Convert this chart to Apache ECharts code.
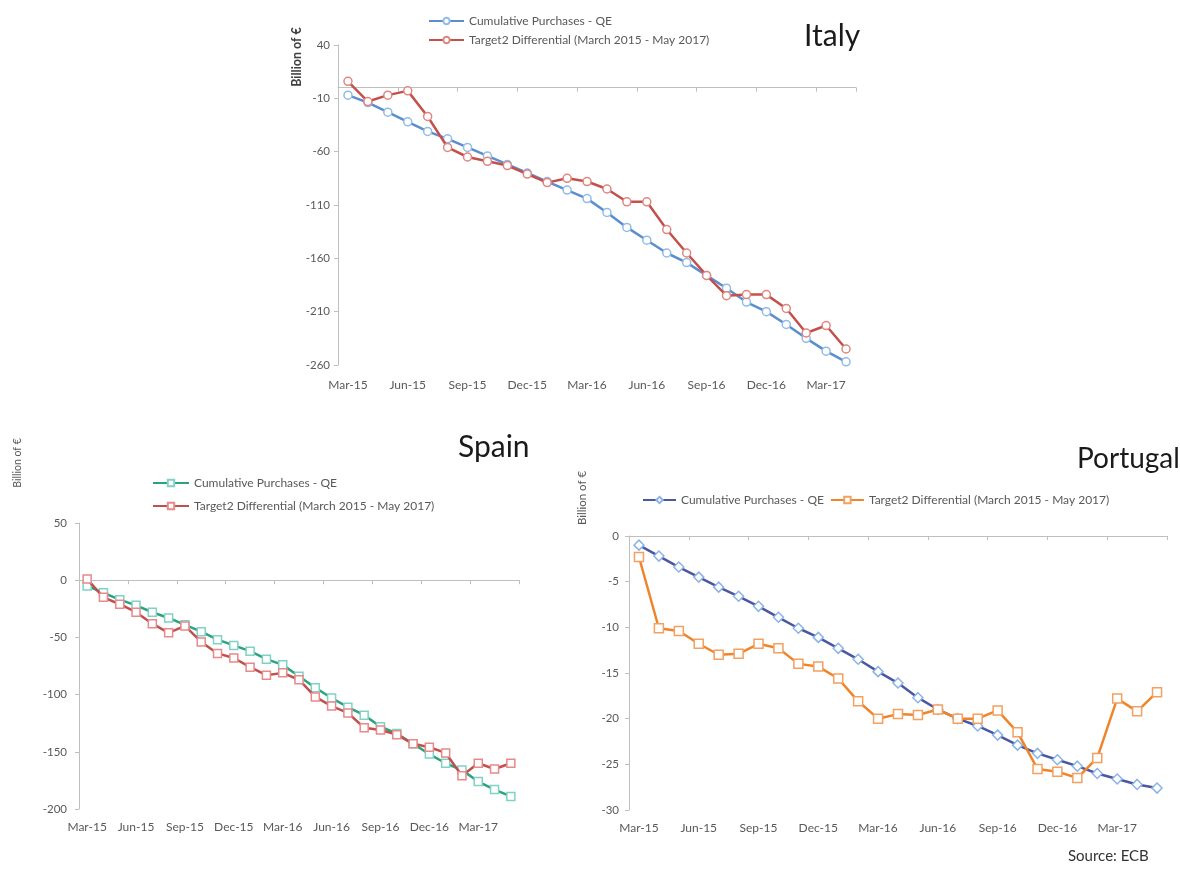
<!DOCTYPE html>
<html>
<head>
<meta charset="utf-8">
<script src="https://cdn.jsdelivr.net/npm/echarts@6/dist/echarts.min.js"></script>
<style>
html,body{margin:0;padding:0;background:#fff;}
#chart{width:1180px;height:870px;}
</style>
</head>
<body>
<div id="chart"></div>
<script>
// ---- Data ----
const months = ['Mar-15','Apr-15','May-15','Jun-15','Jul-15','Aug-15','Sep-15','Oct-15','Nov-15','Dec-15',
  'Jan-16','Feb-16','Mar-16','Apr-16','May-16','Jun-16','Jul-16','Aug-16','Sep-16','Oct-16','Nov-16','Dec-16',
  'Jan-17','Feb-17','Mar-17','Apr-17','May-17'];
const italyMonths = months.slice(0, 26);

const seriesNameQE = 'Cumulative Purchases - QE';
const seriesNameT2 = 'Target2 Differential (March 2015 - May 2017)';

const italyQE = [-7, -14, -23, -32, -41, -48, -56, -64, -72, -80, -88, -96, -104, -117, -131, -143, -155, -164, -176, -188, -201, -210, -222, -235, -247, -257];
const italyT2 = [6, -13, -7, -3, -27, -56, -65, -69, -73, -81, -89, -85, -88, -95, -107, -107, -133, -155, -176, -195, -194, -194, -207, -230, -223, -245];

const spainQE = [-5, -11, -17, -22, -28, -33, -39, -45, -52, -57, -62, -69, -74, -84, -94, -103, -111, -118, -128, -134, -143, -152, -160, -166, -176, -183, -189];
const spainT2 = [1, -15, -21, -28, -38, -46, -40, -54, -64, -68, -76, -83, -81, -87, -102, -110, -116, -129, -131, -135, -143, -146, -151, -171, -160, -165, -160];

const portugalQE = [-1.0, -2.2, -3.4, -4.5, -5.6, -6.6, -7.7, -8.9, -10.1, -11.1, -12.3, -13.5, -14.85, -16.1, -17.7, -19.0, -20.0, -20.8, -21.8, -22.9, -23.8, -24.5, -25.2, -26.0, -26.6, -27.2, -27.6];
const portugalT2 = [-2.3, -10.1, -10.4, -11.8, -13.0, -12.9, -11.8, -12.3, -14.0, -14.3, -15.6, -18.1, -20.0, -19.5, -19.6, -19.0, -20.0, -20.0, -19.1, -21.5, -25.5, -25.8, -26.5, -24.3, -17.8, -19.2, -17.1];

const italyTicks = {min: -260, max: 40, interval: 50};
const spainTicks = {min: -200, max: 50, interval: 50};
const portugalTicks = {min: -30, max: 0, interval: 5};

// ---- Styling helpers ----
const FONT = 'Lato, "Open Sans", sans-serif';
const AXIS_GRAY = '#bfbfbf';
const LABEL_GRAY = '#595959';

function makeSeries(country, name, data, xi, yi, lineColor, symbol, size, border, z) {
  return {
    name: country + '|' + name,
    type: 'line',
    xAxisIndex: xi, yAxisIndex: yi,
    data: data,
    symbol: symbol, symbolSize: size,
    showAllSymbol: true,
    z: z,
    lineStyle: {color: lineColor, width: 2.5},
    itemStyle: {color: '#ffffff', borderColor: border, borderWidth: 1.5},
    emphasis: {disabled: true},
    animation: false
  };
}
function labelXAxis(gi, cats, margin) {
  return {
    gridIndex: gi, type: 'category', data: cats, boundaryGap: true,
    axisLine: {show: false, onZero: false}, axisTick: {show: false},
    axisLabel: {interval: 2, color: LABEL_GRAY, fontSize: 12, fontFamily: FONT, margin: margin},
    splitLine: {show: false}
  };
}
function zeroXAxis(gi, cats, yi) {
  return {
    gridIndex: gi, type: 'category', data: cats, boundaryGap: true, position: 'bottom',
    axisLine: {show: true, onZero: true, onZeroAxisIndex: yi, lineStyle: {color: AXIS_GRAY, width: 1}},
    axisTick: {show: true, interval: 2, length: 4, lineStyle: {color: AXIS_GRAY}},
    axisLabel: {show: false}, splitLine: {show: false}
  };
}
function yAxis(gi, t, margin) {
  return {
    gridIndex: gi, type: 'value', min: t.min, max: t.max, interval: t.interval,
    axisLine: {show: true, lineStyle: {color: AXIS_GRAY}},
    axisTick: {show: true, length: 4, lineStyle: {color: AXIS_GRAY}},
    axisLabel: {color: LABEL_GRAY, fontSize: 11.5, fontFamily: FONT, margin: margin},
    splitLine: {show: false}
  };
}
const legendText = {color: LABEL_GRAY, fontSize: 12, fontFamily: FONT};
const strip = n => n.split('|')[1];

const chart = echarts.init(document.getElementById('chart'), null, {renderer: 'canvas'});
chart.setOption({
  backgroundColor: '#ffffff',
  animation: false,
  title: [
    {text: 'Italy', left: 799, top: 16, textStyle: {fontSize: 30, fontWeight: 'normal', color: '#1a1a1a', fontFamily: FONT}},
    {text: 'Spain', left: 453, top: 427, textStyle: {fontSize: 30, fontWeight: 'normal', color: '#1a1a1a', fontFamily: FONT}},
    {text: 'Portugal', left: 1072, top: 440, textStyle: {fontSize: 28, fontWeight: 'normal', color: '#1a1a1a', fontFamily: FONT}}
  ],
  legend: [
    {left: 423, top: 10, orient: 'vertical', itemGap: 7, itemWidth: 35, itemHeight: 8,
     data: ['Italy|' + seriesNameQE, 'Italy|' + seriesNameT2], formatter: strip, textStyle: legendText, selectedMode: false},
    {left: 147, top: 472, orient: 'vertical', itemGap: 11, itemWidth: 36, itemHeight: 8,
     data: ['Spain|' + seriesNameQE, 'Spain|' + seriesNameT2], formatter: strip, textStyle: legendText, selectedMode: false},
    {left: 637, top: 489, orient: 'horizontal', itemGap: 6, itemWidth: 33, itemHeight: 8,
     data: ['Portugal|' + seriesNameQE, 'Portugal|' + seriesNameT2], formatter: strip, textStyle: legendText, selectedMode: false}
  ],
  grid: [
    {left: 338, top: 45, width: 518, height: 320},
    {left: 79, top: 523, width: 440, height: 286},
    {left: 629, top: 536, width: 538, height: 274}
  ],
  xAxis: [
    labelXAxis(0, italyMonths, 14), zeroXAxis(0, italyMonths, 0),
    labelXAxis(1, months, 12), zeroXAxis(1, months, 1),
    labelXAxis(2, months, 12), zeroXAxis(2, months, 2)
  ],
  yAxis: [yAxis(0, italyTicks, 8), yAxis(1, spainTicks, 12), yAxis(2, portugalTicks, 10)],
  series: [
    makeSeries('Italy', seriesNameQE, italyQE, 0, 0, '#5a8ed0', 'circle', 8, '#92bbe8', 2),
    makeSeries('Italy', seriesNameT2, italyT2, 0, 0, '#c4504c', 'circle', 8, '#e0857f', 3),
    makeSeries('Spain', seriesNameQE, spainQE, 2, 1, '#2ca37c', 'rect', 8, '#80d2c6', 2),
    makeSeries('Spain', seriesNameT2, spainT2, 2, 1, '#c0504d', 'rect', 8, '#e8898a', 3),
    makeSeries('Portugal', seriesNameQE, portugalQE, 4, 2, '#4b57a3', 'diamond', 10, '#8cb3e6', 2),
    makeSeries('Portugal', seriesNameT2, portugalT2, 4, 2, '#f0842a', 'rect', 9, '#f3a060', 3)
  ],
  graphic: [
    {type: 'text', x: 297, y: 57, rotation: Math.PI / 2,
     style: {text: 'Billion of €', fontSize: 12.5, fontWeight: 'bold', fill: '#404040', fontFamily: FONT, align: 'center', verticalAlign: 'middle'}},
    {type: 'text', x: 18, y: 463, rotation: Math.PI / 2,
     style: {text: 'Billion of €', fontSize: 10.5, fill: '#595959', fontFamily: FONT, align: 'center', verticalAlign: 'middle'}},
    {type: 'text', x: 582, y: 498, rotation: Math.PI / 2,
     style: {text: 'Billion of €', fontSize: 11.5, fill: '#595959', fontFamily: FONT, align: 'center', verticalAlign: 'middle'}},
    {type: 'text', x: 1068, y: 856,
     style: {text: 'Source: ECB', fontSize: 15, fill: '#333333', fontFamily: FONT, align: 'left', verticalAlign: 'middle'}}
  ]
});
</script>
</body>
</html>
